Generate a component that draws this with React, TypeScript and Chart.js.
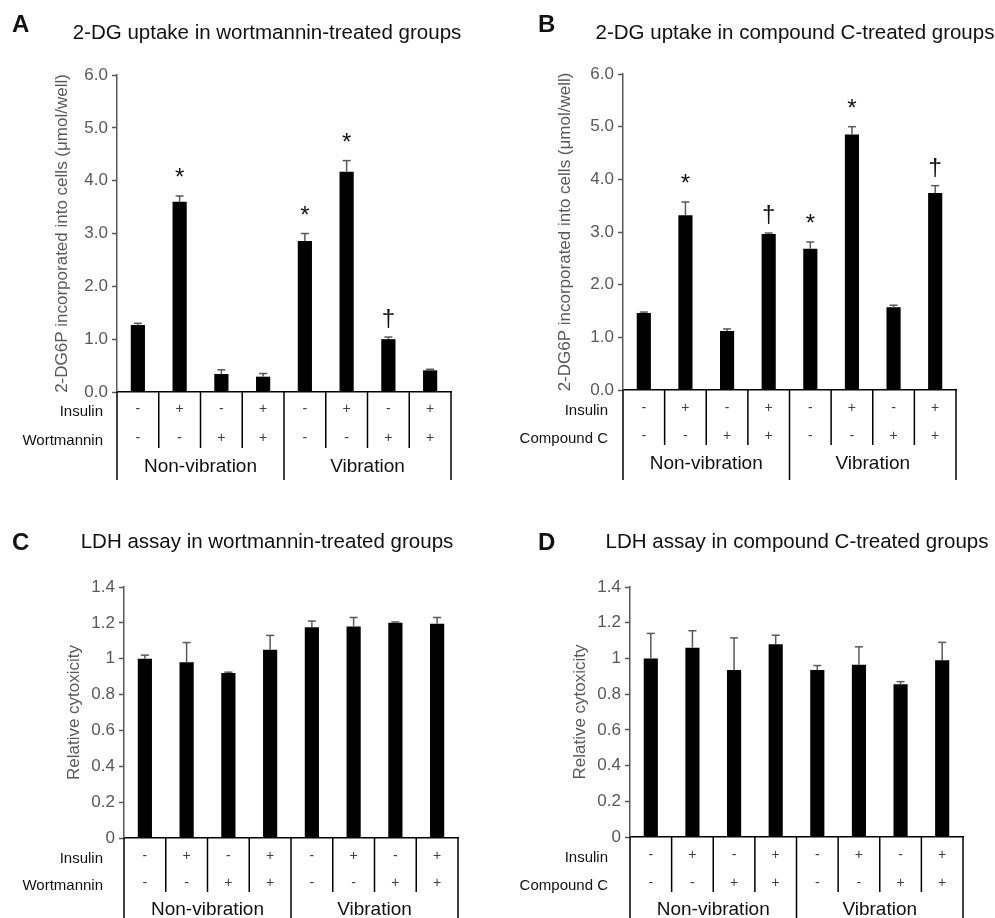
import React, { useEffect, useRef } from "react";
import { Chart, registerables } from "chart.js";

Chart.register(...registerables);

const FONT = "'Liberation Sans', Arial, Helvetica, sans-serif";

// ---- data ----
const categories = [
  "NV Ins- Inh-",
  "NV Ins+ Inh-",
  "NV Ins- Inh+",
  "NV Ins+ Inh+",
  "V Ins- Inh-",
  "V Ins+ Inh-",
  "V Ins- Inh+",
  "V Ins+ Inh+",
];
const insulinSigns = ["-", "+", "-", "+", "-", "+", "-", "+"];
const inhibitorSigns = ["-", "-", "+", "+", "-", "-", "+", "+"];
const groupLabels = ["Non-vibration", "Vibration"];

const uptakeTicks = ["0.0", "1.0", "2.0", "3.0", "4.0", "5.0", "6.0"];
const ldhTicks = ["0", "0.2", "0.4", "0.6", "0.8", "1", "1.2", "1.4"];

const uptakeWortValues = [1.27, 3.6, 0.34, 0.29, 2.86, 4.17, 1.0, 0.41];
const uptakeWortErrors = [0.03, 0.11, 0.08, 0.06, 0.14, 0.21, 0.04, 0.02];
const uptakeWortMarks = ["", "*", "", "", "*", "*", "†", ""];

const uptakeCompValues = [1.46, 3.32, 1.12, 2.96, 2.68, 4.85, 1.57, 3.74];
const uptakeCompErrors = [0.02, 0.25, 0.04, 0.02, 0.13, 0.15, 0.04, 0.14];
const uptakeCompMarks = ["", "*", "", "†", "*", "*", "", "†"];

const ldhWortValues = [1.0, 0.98, 0.92, 1.05, 1.175, 1.18, 1.2, 1.195];
const ldhWortErrors = [0.02, 0.11, 0.005, 0.08, 0.035, 0.05, 0.005, 0.035];
const ldhWortMarks = ["", "", "", "", "", "", "", ""];

const ldhCompValues = [1.0, 1.06, 0.935, 1.08, 0.935, 0.965, 0.855, 0.99];
const ldhCompErrors = [0.14, 0.095, 0.18, 0.05, 0.025, 0.1, 0.015, 0.1];
const ldhCompMarks = ["", "", "", "", "", "", "", ""];

type PanelProps = {
  letter: string;
  title: string;
  values: number[];
  errors: number[];
  marks: string[];
  ticks: string[];
  yMax: number;
  yStep: number;
  yTitle: string;
  inhibitorLabel: string;
  left: number;
  top: number;
  width: number;
  height: number;
  pad: { left: number; right: number; top: number; bottom: number };
  yWidth: number;
  letterX: number;
  letterY: number;
  titleX: number;
  titleY: number;
  rowLabelRight: number;
  row1: number;
  row2: number;
  shortLen: number;
  groupY: number;
};

function Panel(p: PanelProps) {
  const ref = useRef<HTMLCanvasElement | null>(null);

  useEffect(() => {
    if (!ref.current) return;
    const decor = {
      id: "decor",
      afterDraw(chart: any) {
        const { ctx, chartArea: ca } = chart;
        const x = chart.scales.x;
        const y = chart.scales.y;
        const meta = chart.getDatasetMeta(0);
        const line = (x1: number, y1: number, x2: number, y2: number) => {
          ctx.beginPath();
          ctx.moveTo(x1, y1);
          ctx.lineTo(x2, y2);
          ctx.stroke();
        };
        ctx.save();
        // error bars + significance marks
        p.values.forEach((v, i) => {
          const bx = meta.data[i].x;
          const yb = y.getPixelForValue(v);
          const yt = y.getPixelForValue(v + p.errors[i]);
          ctx.strokeStyle = "#595959";
          ctx.lineWidth = 1.5;
          line(bx, yb, bx, yt);
          line(bx - 4, yt, bx + 4, yt);
          if (p.marks[i]) {
            ctx.fillStyle = "#111";
            ctx.font = `24px ${FONT}`;
            ctx.textAlign = "center";
            ctx.textBaseline = "alphabetic";
            ctx.fillText(p.marks[i], bx, yt - 11);
          }
        });
        // table grid
        const n = categories.length;
        const bounds: number[] = [ca.left];
        for (let k = 1; k < n; k++) {
          bounds.push((x.getPixelForValue(k - 1) + x.getPixelForValue(k)) / 2);
        }
        bounds.push(ca.right);
        ctx.strokeStyle = "#000";
        ctx.lineWidth = 1.5;
        for (let k = 0; k <= n; k++) {
          const long = k === 0 || k === n || k === n / 2;
          line(bounds[k], ca.bottom, bounds[k], long ? chart.height : ca.bottom + p.shortLen);
        }
        // signs
        ctx.fillStyle = "#404040";
        ctx.font = `14px ${FONT}`;
        ctx.textAlign = "center";
        ctx.textBaseline = "middle";
        insulinSigns.forEach((s, i) => ctx.fillText(s, meta.data[i].x, ca.bottom + p.row1));
        inhibitorSigns.forEach((s, i) => ctx.fillText(s, meta.data[i].x, ca.bottom + p.row2));
        // row labels
        ctx.fillStyle = "#111";
        ctx.font = `15px ${FONT}`;
        ctx.textAlign = "right";
        ctx.fillText("Insulin", p.rowLabelRight, ca.bottom + p.row1 + 3);
        ctx.fillText(p.inhibitorLabel, p.rowLabelRight, ca.bottom + p.row2 + 3);
        // group labels
        ctx.font = `19px ${FONT}`;
        ctx.textAlign = "center";
        ctx.fillText(groupLabels[0], (bounds[0] + bounds[n / 2]) / 2, ca.bottom + p.groupY);
        ctx.fillText(groupLabels[1], (bounds[n / 2] + bounds[n]) / 2, ca.bottom + p.groupY);
        // panel letter and title
        ctx.textBaseline = "alphabetic";
        ctx.textAlign = "left";
        ctx.font = `bold 24px ${FONT}`;
        ctx.fillText(p.letter, p.letterX, p.letterY);
        ctx.textAlign = "center";
        ctx.font = `20.5px ${FONT}`;
        ctx.fillText(p.title, p.titleX, p.titleY);
        ctx.restore();
      },
    };

    const chart = new Chart(ref.current, {
      type: "bar",
      data: {
        labels: categories,
        datasets: [
          {
            data: p.values,
            backgroundColor: "#000",
            borderWidth: 0,
            barPercentage: 0.34,
            categoryPercentage: 1,
          },
        ],
      },
      options: {
        responsive: false,
        animation: false,
        layout: { padding: p.pad },
        plugins: {
          legend: { display: false },
          tooltip: { enabled: false },
          title: { display: false },
        },
        scales: {
          x: {
            type: "category",
            grid: { display: false },
            ticks: { display: false },
            border: { display: true, color: "#000", width: 1.5 },
            afterFit: (s: any) => {
              s.height = 0;
            },
          },
          y: {
            min: 0,
            max: p.yMax,
            ticks: {
              stepSize: p.yStep,
              callback: (_v: any, i: number) => p.ticks[i],
              color: "#595959",
              font: { size: 17, family: FONT },
              padding: 4,
            },
            grid: {
              display: true,
              drawOnChartArea: false,
              drawTicks: true,
              tickLength: 5,
              tickColor: "#595959",
              tickWidth: 1.5,
            },
            border: { display: true, color: "#595959", width: 1.5 },
            title: {
              display: true,
              text: p.yTitle,
              color: "#595959",
              font: { size: 17, family: FONT },
              padding: 0,
            },
            afterFit: (s: any) => {
              s.width = p.yWidth;
            },
          },
        },
      },
      plugins: [decor],
    } as any);
    return () => chart.destroy();
  }, []);

  return (
    <div style={{ position: "absolute", left: p.left, top: p.top, width: p.width, height: p.height }}>
      <canvas ref={ref} width={p.width} height={p.height} style={{ display: "block" }} />
    </div>
  );
}

const UPTAKE_Y = "2-DG6P incorporated into cells (μmol/well)";
const LDH_Y = "Relative cytoxicity";

export default function App() {
  return (
    <div style={{ position: "absolute", left: 0, top: 0, width: 995, height: 918, background: "#fff" }}>
      <Panel
        letter="A"
        title="2-DG uptake in wortmannin-treated groups"
        values={uptakeWortValues}
        errors={uptakeWortErrors}
        marks={uptakeWortMarks}
        ticks={uptakeTicks}
        yMax={6}
        yStep={1}
        yTitle={UPTAKE_Y}
        inhibitorLabel="Wortmannin"
        left={0}
        top={0}
        width={497}
        height={480}
        pad={{ left: 52, right: 46, top: 75, bottom: 88 }}
        yWidth={65}
        letterX={12}
        letterY={32}
        titleX={267}
        titleY={39}
        rowLabelRight={103}
        row1={17}
        row2={46}
        shortLen={56}
        groupY={75}
      />
      <Panel
        letter="B"
        title="2-DG uptake in compound C-treated groups"
        values={uptakeCompValues}
        errors={uptakeCompErrors}
        marks={uptakeCompMarks}
        ticks={uptakeTicks}
        yMax={6}
        yStep={1}
        yTitle={UPTAKE_Y}
        inhibitorLabel="Compound C"
        left={497}
        top={0}
        width={498}
        height={480}
        pad={{ left: 58, right: 39, top: 74, bottom: 90 }}
        yWidth={68}
        letterX={41}
        letterY={32}
        titleX={298}
        titleY={39}
        rowLabelRight={111}
        row1={18}
        row2={46}
        shortLen={55}
        groupY={74}
      />
      <Panel
        letter="C"
        title="LDH assay in wortmannin-treated groups"
        values={ldhWortValues}
        errors={ldhWortErrors}
        marks={ldhWortMarks}
        ticks={ldhTicks}
        yMax={1.4}
        yStep={0.2}
        yTitle={LDH_Y}
        inhibitorLabel="Wortmannin"
        left={0}
        top={500}
        width={497}
        height={418}
        pad={{ left: 64, right: 39, top: 87, bottom: 80 }}
        yWidth={60}
        letterX={12}
        letterY={50}
        titleX={267}
        titleY={48}
        rowLabelRight={103}
        row1={18}
        row2={45}
        shortLen={54}
        groupY={72}
      />
      <Panel
        letter="D"
        title="LDH assay in compound C-treated groups"
        values={ldhCompValues}
        errors={ldhCompErrors}
        marks={ldhCompMarks}
        ticks={ldhTicks}
        yMax={1.4}
        yStep={0.2}
        yTitle={LDH_Y}
        inhibitorLabel="Compound C"
        left={497}
        top={500}
        width={498}
        height={418}
        pad={{ left: 73, right: 32, top: 87, bottom: 81 }}
        yWidth={60}
        letterX={41}
        letterY={50}
        titleX={300}
        titleY={48}
        rowLabelRight={111}
        row1={18}
        row2={46}
        shortLen={55}
        groupY={73}
      />
    </div>
  );
}
